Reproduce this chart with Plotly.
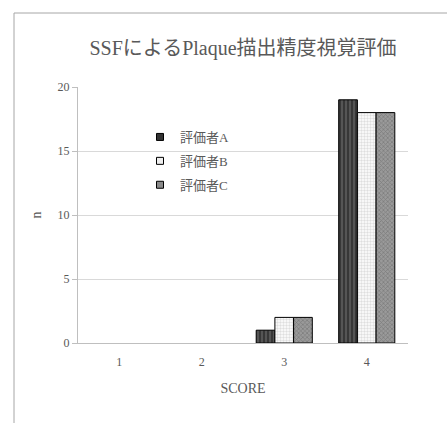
import plotly.graph_objects as go

# Visual evaluation scores per rater
scores = ["1", "2", "3", "4"]
rater_a = [0, 0, 1, 19]
rater_b = [0, 0, 2, 18]
rater_c = [0, 0, 2, 18]
rater_names = ["評価者A", "評価者B", "評価者C"]

title_text = "SSFによるPlaque描出精度視覚評価"
y_ticks = [0, 5, 10, 15, 20]

SERIF = "Liberation Serif, Noto Sans CJK JP, serif"
TEXT = "#595959"

styles = [
    dict(shape="|", bg="#555555", fg="#1a1a1a", size=4, solidity=0.5, key="#333333"),
    dict(shape=".", bg="#ffffff", fg="#bdbdbd", size=3, solidity=0.5, key="#eeeeee"),
    dict(shape="x", bg="#9a9a9a", fg="#5a5a5a", size=3, solidity=0.4, key="#8a8a8a"),
]

fig = go.Figure()
for name, vals, st in zip(rater_names, [rater_a, rater_b, rater_c], styles):
    fig.add_trace(go.Bar(
        x=scores, y=vals, name=name, showlegend=False,
        marker=dict(
            color=st["bg"],
            line=dict(color="#000000", width=[1 if v > 0 else 0 for v in vals]),
            pattern=dict(shape=st["shape"], fgcolor=st["fg"], bgcolor=st["bg"],
                         size=st["size"], solidity=st["solidity"], fillmode="overlay"),
        ),
    ))

# Compact legend keys
for name, st in zip(rater_names, styles):
    fig.add_trace(go.Scatter(
        x=[None], y=[None], mode="markers", name=name, legendgroup=name,
        marker=dict(symbol="square", size=7, color=st["key"],
                    line=dict(color="#000000", width=1)),
    ))

fig.update_layout(
    width=447, height=423,
    margin=dict(l=78, r=39, t=87, b=80),
    paper_bgcolor="white", plot_bgcolor="white",
    barmode="group", bargap=0.32, bargroupgap=0,
    font=dict(family=SERIF, color=TEXT, size=12),
    title=dict(text=title_text, x=0.5, xref="paper", xanchor="center",
               y=1 - 48 / 423, yref="container", yanchor="middle",
               font=dict(family=SERIF, size=20, color=TEXT)),
    showlegend=True,
    legend=dict(x=(140 - 78) / 330, y=(343 - 122) / 256, xanchor="left", yanchor="top",
                bgcolor="rgba(0,0,0,0)", font=dict(family=SERIF, size=13, color=TEXT),
                tracegroupgap=4, itemwidth=30),
    xaxis=dict(type="category", showgrid=False, showline=True, linecolor="#bfbfbf",
               linewidth=1, ticks="outside", ticklen=8, tickcolor="rgba(0,0,0,0)",
               tickfont=dict(family=SERIF, size=12, color=TEXT),
               title=dict(text="SCORE", font=dict(family=SERIF, size=14, color=TEXT),
                          standoff=14)),
    yaxis=dict(range=[0, 20], tickvals=y_ticks, showgrid=True, gridcolor="#d9d9d9",
               showline=True, linecolor="#bfbfbf", linewidth=1, ticks="outside",
               ticklen=5, tickcolor="#bfbfbf", zeroline=False,
               tickfont=dict(family=SERIF, size=12, color=TEXT),
               title=dict(text="n", font=dict(family=SERIF, size=14, color=TEXT),
                          standoff=12)),
)

# Chart frame (top and left edges visible)
fx0 = (14 - 78) / 330
fy0 = (343 - 13) / 256
fig.add_shape(type="line", xref="paper", yref="paper", x0=fx0, y0=fy0, x1=1.2, y1=fy0,
              line=dict(color="#a6a6a6", width=1))
fig.add_shape(type="line", xref="paper", yref="paper", x0=fx0, y0=fy0, x1=fx0, y1=-0.4,
              line=dict(color="#a6a6a6", width=1))

fig.write_html("out.html")
